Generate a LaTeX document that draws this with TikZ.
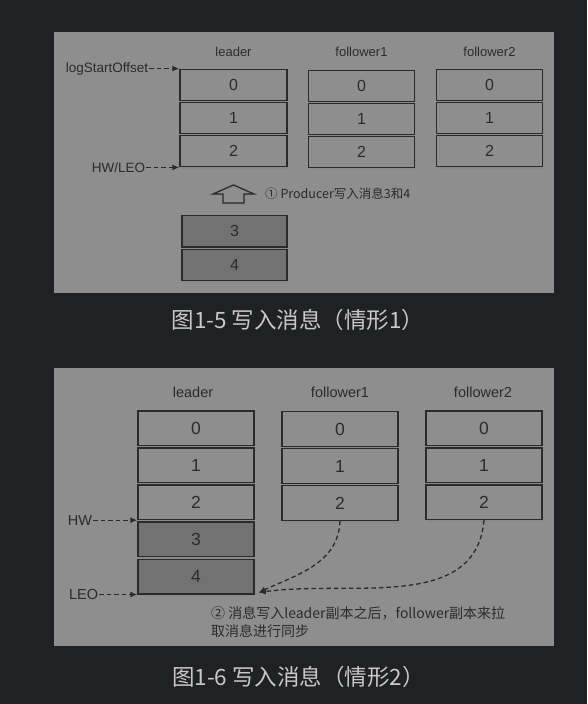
\documentclass[tikz,border=0pt]{standalone}
\usepackage{fontspec}
\setmainfont{Liberation Sans}
\newfontfamily\cjk{Noto Sans CJK SC}
\usetikzlibrary{shadows,arrows.meta}
\definecolor{pagebg}{HTML}{202124}
\definecolor{panelbg}{HTML}{8E8E8E}
\definecolor{newmsg}{HTML}{727272}
\definecolor{ink}{HTML}{2B2B2B}
\definecolor{captext}{HTML}{C8C8C8}
\tikzset{
  msg/.style = {draw=ink, line width=1.3pt, fill=panelbg, text=ink, inner sep=0pt,
    drop shadow={shadow xshift=1pt,shadow yshift=-2.5pt,opacity=0.35}},
  newer/.style = {msg, fill=newmsg},
  ptr/.style = {draw=ink, line width=1.3pt, dash pattern=on 4.5pt off 3pt, -{Latex[length=7pt,width=6pt]}},
  col/.style = {text=ink, inner sep=1pt},
  caption/.style = {text=captext, font=\cjk\fontsize{22.5}{26}\selectfont},
}

\begin{document}
\begin{tikzpicture}[x=1pt,y=1pt]
  \useasboundingbox[fill=pagebg] (0,0) rectangle (587,-704);
  % first case
  \fill[panelbg] (54,-32) rectangle (554,-293);
  \foreach \i in {0,1,2} {
    \node[msg, minimum width=107pt, minimum height=31.5pt, font=\fontsize{16}{18}\selectfont] (aL\i) at (233.5,{-85-33*\i}) {\i};
    \node[msg, minimum width=106pt, minimum height=31.5pt, font=\fontsize{16}{18}\selectfont] (aF\i) at (361.5,{-86-33*\i}) {\i};
    \node[msg, minimum width=106pt, minimum height=31.5pt, font=\fontsize{16}{18}\selectfont] (aG\i) at (489.5,{-85-33*\i}) {\i};
  }
  \node[col, font=\fontsize{13}{15}\selectfont] (aLead) at (233.5,-52) {leader};
  \node[col, font=\fontsize{13}{15}\selectfont] (aFol1) at (361.5,-52) {follower1};
  \node[col, font=\fontsize{13}{15}\selectfont] (aFol2) at (489.5,-52) {follower2};
  \node[col, anchor=east, font=\fontsize{13.5}{15}\selectfont] (aStart) at ([xshift=-30pt]aL0.north west) {logStartOffset};
  \node[col, anchor=east, font=\fontsize{13.5}{15}\selectfont] (aEnd) at ([xshift=-33pt]aL2.south west) {HW/LEO};
  \draw[ptr] (aStart) -- (aL0.north west);
  \draw[ptr] (aEnd) -- (aL2.south west);
  \draw[draw=ink, line width=1.3pt, fill=panelbg, drop shadow={shadow xshift=1pt,shadow yshift=-2pt,opacity=0.35}]
    (233.5,-185) -- (254,-194) -- (244,-194) -- (244,-203) -- (223,-203) -- (223,-194) -- (213,-194) -- cycle;
  \node[col, anchor=west, font=\cjk\fontsize{12.5}{15}\selectfont] (aNote) at (264,-194) {① Producer写入消息3和4};
  \node[newer, minimum width=105pt, minimum height=31.5pt, font=\fontsize{16}{18}\selectfont] (aN3) at (234.5,-231.3) {3};
  \node[newer, minimum width=105pt, minimum height=31.5pt, font=\fontsize{16}{18}\selectfont] (aN4) at (234.5,-265) {4};
  \node[caption] (aCap) at (298,-320) {图1-5 写入消息（情形1）};
  % second case
  \fill[panelbg] (54,-368) rectangle (554,-646);
  \foreach \i in {0,1,2} {
    \node[msg, minimum width=116pt, minimum height=34.5pt, font=\fontsize{17.5}{20}\selectfont] (bL\i) at (196,{-428.3-37*\i}) {\i};
    \node[msg, minimum width=116pt, minimum height=34.5pt, font=\fontsize{17.5}{20}\selectfont] (bF\i) at (340,{-429-37*\i}) {\i};
    \node[msg, minimum width=116pt, minimum height=34.5pt, font=\fontsize{17.5}{20}\selectfont] (bG\i) at (484,{-428.3-37*\i}) {\i};
  }
  \node[newer, minimum width=116pt, minimum height=34.5pt, font=\fontsize{17.5}{20}\selectfont] (bL3) at (196,-539.3) {3};
  \node[newer, minimum width=116pt, minimum height=34.5pt, font=\fontsize{17.5}{20}\selectfont] (bL4) at (196,-576.6) {4};
  \node[col, font=\fontsize{14.5}{17}\selectfont] (bLead) at (193,-392) {leader};
  \node[col, font=\fontsize{14.5}{17}\selectfont] (bFol1) at (340,-392) {follower1};
  \node[col, font=\fontsize{14.5}{17}\selectfont] (bFol2) at (483,-392) {follower2};
  \node[col, anchor=east, font=\fontsize{14.5}{17}\selectfont] (bHW) at ([xshift=-44pt]bL2.south west) {HW};
  \node[col, anchor=east, font=\fontsize{14.5}{17}\selectfont] (bLEO) at ([xshift=-38pt]bL4.south west) {LEO};
  \draw[ptr] (bHW) -- (bL2.south west);
  \draw[ptr] (bLEO) -- (bL4.south west);
  \coordinate (bIn) at ([xshift=4pt,yshift=2pt]bL4.south east);
  \draw[ptr] (bF2.south) to[out=-92,in=25] (bIn);
  \draw[ptr] (bG2.south) to[out=-95,in=8] (bIn);
  \node[col, anchor=north west, align=left, font=\cjk\fontsize{14}{18}\selectfont] (bNote) at (210,-605)
    {② 消息写入leader副本之后，follower副本来拉\\取消息进行同步};
  \node[caption] (bCap) at (298.5,-677) {图1-6 写入消息（情形2）};
\end{tikzpicture}
\end{document}
